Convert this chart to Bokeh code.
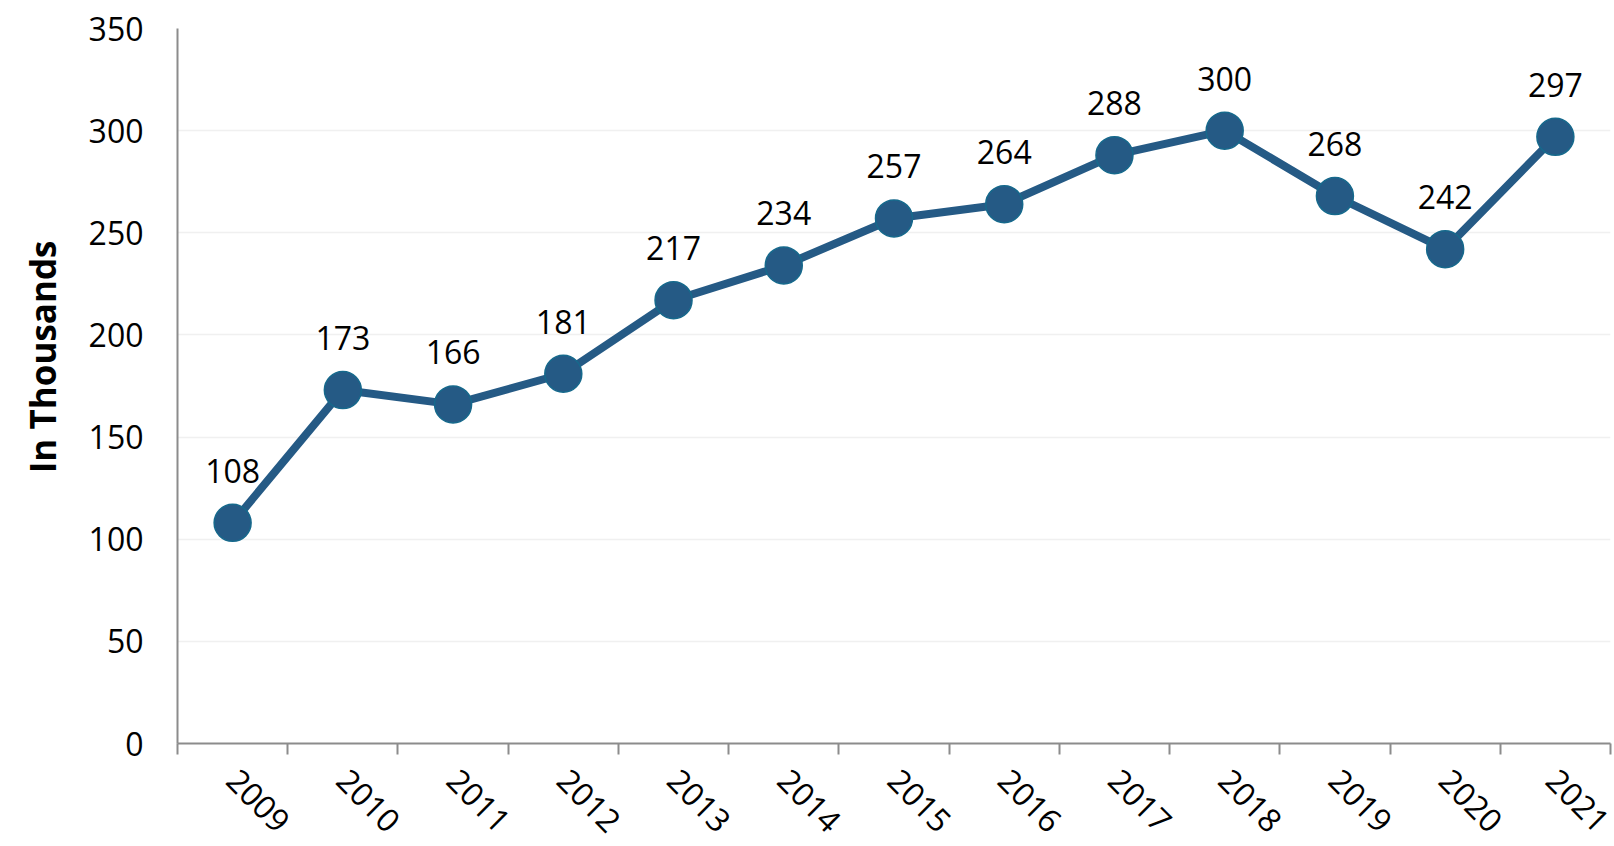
import math
from bokeh.plotting import figure
from bokeh.models import FixedTicker, ColumnDataSource, Range1d, Title
from bokeh.core.properties import value
from bokeh.embed import file_html
from bokeh.resources import INLINE

years = ["2009", "2010", "2011", "2012", "2013", "2014", "2015",
         "2016", "2017", "2018", "2019", "2020", "2021"]
values = [108, 173, 166, 181, 217, 234, 257, 264, 288, 300, 268, 242, 297]
y_ticks = [0, 50, 100, 150, 200, 250, 300, 350]
y_label = "In Thousands"

FONT = "Open Sans"
LINE = "#255a85"

xs = [i + 0.5 for i in range(len(years))]
src = ColumnDataSource(dict(x=xs, y=values, lab=[str(v) for v in values]))

p = figure(width=1612, height=846, output_backend="svg", toolbar_location=None,
           x_range=Range1d(0, len(years)), y_range=Range1d(0, 350),
           min_border_left=177, min_border_right=2, min_border_top=28,
           min_border_bottom=102)
p.outline_line_color = None
p.background_fill_color = "white"
p.border_fill_color = "white"

p.line("x", "y", source=src, line_color=LINE, line_width=8, line_join="round")
p.scatter("x", "y", source=src, size=37, fill_color=LINE,
          line_color="#16698c", line_width=1.5)
p.text("x", "y", text="lab", source=src, text_font=value(FONT),
       text_font_size="32px", text_color="#000000", text_align="center",
       text_baseline="alphabetic", y_offset=-52)

# x axis: ticks at category boundaries, labels at centres
xa = p.xaxis[0]
xa.ticker = FixedTicker(ticks=xs, minor_ticks=list(range(len(years) + 1)))
xa.major_label_overrides = {x: y for x, y in zip(xs, years)}
xa.major_tick_in = 0
xa.major_tick_out = 0
xa.minor_tick_in = 0
xa.minor_tick_out = 11
xa.minor_tick_line_color = "#8c8c8c"
xa.minor_tick_line_width = 2
xa.axis_line_color = "#8c8c8c"
xa.axis_line_width = 2
xa.major_label_orientation = -math.pi / 4
xa.major_label_text_font = FONT
xa.major_label_text_font_size = "32px"
xa.major_label_text_color = "#000000"
xa.major_label_standoff = 20

ya = p.yaxis[0]
ya.ticker = FixedTicker(ticks=y_ticks)
ya.major_tick_in = 0
ya.major_tick_out = 0
ya.minor_tick_line_color = None
ya.axis_line_color = "#8c8c8c"
ya.axis_line_width = 2
ya.major_label_text_font = FONT
ya.major_label_text_font_size = "32px"
ya.major_label_text_color = "#000000"
ya.major_label_standoff = 34

p.xgrid.grid_line_color = None
p.ygrid.ticker = FixedTicker(ticks=y_ticks[1:])
p.ygrid.grid_line_color = "#f0f0f0"
p.ygrid.grid_line_width = 1.5

t = Title(text=y_label, align="right", offset=212, standoff=36,
          vertical_align="top",
          text_font=FONT, text_font_size="35px", text_font_style="bold",
          text_color="#000000")
p.add_layout(t, "left")

open("out.html", "w").write(file_html(p, INLINE))
